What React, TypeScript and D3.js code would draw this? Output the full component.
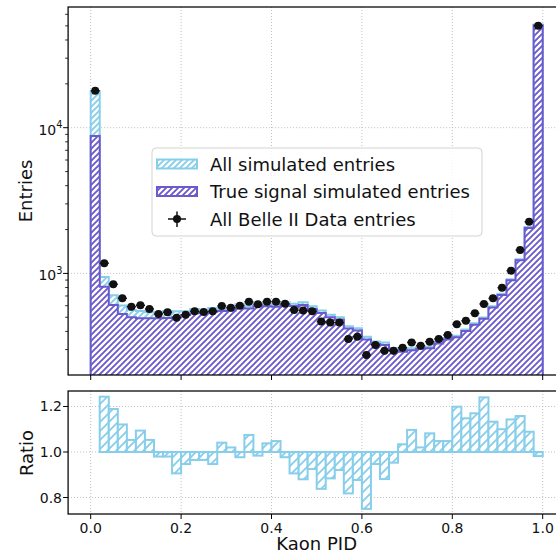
import React from "react";
import * as d3 from "d3";

// ---- data (50 bins of width 0.02 over Kaon PID 0..1) ----
const binEdges = d3.range(51).map((i) => i / 50);

const allSimulated = [
  17800, 943, 707, 602, 561, 552, 541, 537, 552, 549,
  550, 569, 563, 580, 573, 571, 614, 595, 624, 617,
  611, 634, 619, 633, 594, 557, 520, 500, 434, 420,
  367, 341, 335, 308, 299, 306, 313, 314, 339, 361,
  374, 412, 455, 498, 595, 725, 913, 1251, 2080, 51000,
];

const trueSignal = [
  8770, 811, 607, 526, 500, 492, 492, 492, 495, 500,
  519, 532, 535, 546, 552, 555, 580, 575, 598, 595,
  590, 610, 598, 608, 570, 535, 500, 480, 418, 405,
  352, 328, 322, 297, 290, 297, 304, 306, 330, 352,
  365, 402, 445, 488, 583, 712, 898, 1232, 2050, 50500,
];

const belleData = [
  17900, 1172, 841, 675, 591, 604, 570, 526, 541, 497,
  521, 549, 543, 549, 597, 582, 600, 640, 614, 640,
  640, 619, 561, 557, 549, 467, 460, 460, 355, 368,
  275, 323, 295, 294, 309, 336, 319, 340, 355, 378,
  448, 473, 532, 617, 674, 798, 1044, 1449, 2265, 50100,
];

const ratioVals = [
  1.0, 1.243, 1.189, 1.121, 1.053, 1.094, 1.053, 0.98, 0.98, 0.906,
  0.947, 0.965, 0.965, 0.947, 1.041, 1.02, 0.977, 1.075, 0.984, 1.038,
  1.048, 0.977, 0.906, 0.88, 0.925, 0.838, 0.884, 0.921, 0.818, 0.877,
  0.75, 0.947, 0.881, 0.953, 1.034, 1.097, 1.02, 1.082, 1.048, 1.048,
  1.199, 1.148, 1.17, 1.24, 1.133, 1.1, 1.143, 1.158, 1.089, 0.982,
];

const xTicks = [0, 0.2, 0.4, 0.6, 0.8, 1.0];
const xTickLabels = ["0.0", "0.2", "0.4", "0.6", "0.8", "1.0"];
const yMainTicks = [1e3, 1e4];
const yMainExps = ["3", "4"];
const yMinorTicks = [300, 400, 500, 600, 700, 800, 900, 2000, 3000, 4000, 5000, 6000, 7000, 8000, 9000, 20000, 30000, 40000, 50000, 60000];
const ratioTicks = [0.8, 1.0, 1.2];
const ratioTickLabels = ["0.8", "1.0", "1.2"];

const legendLabels = ["All simulated entries", "True signal simulated entries", "All Belle II Data entries"];

// ---- styles ----
const SKY = "#87CEEB";
const SLATE = "#6A5ACD";
const FONT = "'DejaVu Sans', sans-serif";
const GRID = "#b0b0b0";

const x = d3.scaleLinear().domain([-0.05, 1.05]).range([68.1, 565.3]);
const yMain = d3.scaleLog().domain([200.8, 67360]).range([375, 7]);
const yRatio = d3.scaleLinear().domain([0.7275, 1.268]).range([514, 391]);

const MAIN = { top: 7, bottom: 375 };
const RAT = { top: 391, bottom: 514 };
const LEFT = 68.1;
const RIGHT = 565.3;

function stepPath(vals: number[], base: number) {
  let d = `M${x(binEdges[0])},${base}`;
  vals.forEach((v, i) => {
    d += `L${x(binEdges[i])},${yMain(v)}L${x(binEdges[i + 1])},${yMain(v)}`;
  });
  d += `L${x(binEdges[binEdges.length - 1])},${base}Z`;
  return d;
}

function hatchPath(p: number) {
  return `M0,${p} l${p},${-p} M${-p / 4},${p / 4} l${p / 2},${-p / 2} M${(3 * p) / 4},${(5 * p) / 4} l${p / 2},${-p / 2}`;
}

export default function App() {
  const centers = belleData.map((_, i) => (binEdges[i] + binEdges[i + 1]) / 2);
  return (
    <svg
      width={556}
      height={554}
      style={{ position: "absolute", left: 0, top: 0, background: "#fff" }}
      fontFamily={FONT}
    >
      <defs>
        <pattern id="hBlue" patternUnits="userSpaceOnUse" width={6} height={6}>
          <rect width={6} height={6} fill="#fff" />
          <path d={hatchPath(6)} stroke={SKY} strokeWidth={1.9} />
        </pattern>
        <pattern id="hSlate" patternUnits="userSpaceOnUse" width={6} height={6}>
          <rect width={6} height={6} fill="#fff" />
          <path d={hatchPath(6)} stroke={SLATE} strokeWidth={1.9} />
        </pattern>
        <pattern id="hBlueR" patternUnits="userSpaceOnUse" width={9} height={9}>
          <rect width={9} height={9} fill="#fff" />
          <path d={hatchPath(9)} stroke={SKY} strokeWidth={1.8} />
        </pattern>
        <clipPath id="clipMain">
          <rect x={LEFT} y={MAIN.top} width={RIGHT - LEFT} height={MAIN.bottom - MAIN.top} />
        </clipPath>
        <clipPath id="clipRat">
          <rect x={LEFT} y={RAT.top} width={RIGHT - LEFT} height={RAT.bottom - RAT.top} />
        </clipPath>
      </defs>

      {/* ===== main panel ===== */}
      <rect x={LEFT} y={MAIN.top} width={RIGHT - LEFT} height={MAIN.bottom - MAIN.top} fill="#fff" />
      <g clipPath="url(#clipMain)">
        {xTicks.map((t) => (
          <line key={"gx" + t} x1={x(t)} x2={x(t)} y1={MAIN.top} y2={MAIN.bottom} stroke={GRID} strokeWidth={0.8} strokeDasharray="1,2" />
        ))}
        {yMainTicks.map((t) => (
          <line key={"gy" + t} x1={LEFT} x2={RIGHT} y1={yMain(t)} y2={yMain(t)} stroke={GRID} strokeWidth={0.8} strokeDasharray="1,2" />
        ))}
        <path d={stepPath(allSimulated, 420)} fill="url(#hBlue)" stroke={SKY} strokeWidth={2} strokeLinejoin="miter" />
        <path d={stepPath(trueSignal, 420)} fill="url(#hSlate)" stroke={SLATE} strokeWidth={2} strokeLinejoin="miter" />
        {belleData.map((v, i) => {
          const err = Math.sqrt(v);
          return (
            <g key={"d" + i}>
              <line x1={x(centers[i])} x2={x(centers[i])} y1={yMain(v + err)} y2={yMain(v - err)} stroke="#111" strokeWidth={1.5} />
              <line x1={x(binEdges[i])} x2={x(binEdges[i + 1])} y1={yMain(v)} y2={yMain(v)} stroke="#111" strokeWidth={1.5} />
              <circle cx={x(centers[i])} cy={yMain(v)} r={4} fill="#111" />
            </g>
          );
        })}
      </g>
      {/* legend */}
      <g>
        <rect x={152} y={148} width={330} height={88} rx={4} fill="#fff" fillOpacity={0.8} stroke="#d3d3d3" strokeWidth={1} />
        <rect x={157} y={159.5} width={40} height={9} fill="url(#hBlue)" stroke={SKY} strokeWidth={2} />
        <rect x={157} y={187} width={40} height={9} fill="url(#hSlate)" stroke={SLATE} strokeWidth={2} />
        <line x1={168} x2={186} y1={219} y2={219} stroke="#111" strokeWidth={1.5} />
        <line x1={177} x2={177} y1={211.5} y2={227} stroke="#111" strokeWidth={1.5} />
        <circle cx={177} cy={219} r={4} fill="#111" />
        {legendLabels.map((l, i) => (
          <text key={l} x={210} y={164 + i * 27.6 + 6.5} fontSize={18} fill="#111">
            {l}
          </text>
        ))}
      </g>
      <rect x={LEFT} y={MAIN.top} width={RIGHT - LEFT} height={MAIN.bottom - MAIN.top} fill="none" stroke="#000" strokeWidth={1.25} />
      {xTicks.map((t) => (
        <line key={"tx" + t} x1={x(t)} x2={x(t)} y1={MAIN.bottom} y2={MAIN.bottom + 5} stroke="#000" strokeWidth={1} />
      ))}
      {yMainTicks.map((t, i) => (
        <g key={"ty" + t}>
          <line x1={LEFT - 5} x2={LEFT} y1={yMain(t)} y2={yMain(t)} stroke="#000" strokeWidth={1} />
          <text x={62.5} y={yMain(t) + 7} textAnchor="end" fontSize={14} fill="#111">
            <tspan>10</tspan>
            <tspan dy={-6.5} fontSize={9.8}>{yMainExps[i]}</tspan>
          </text>
        </g>
      ))}
      {yMinorTicks.map((t) => (
        <line key={"tm" + t} x1={LEFT - 3} x2={LEFT} y1={yMain(t)} y2={yMain(t)} stroke="#000" strokeWidth={0.8} />
      ))}
      <text transform={`translate(31.5,191) rotate(-90)`} textAnchor="middle" fontSize={18} fill="#111">
        Entries
      </text>

      {/* ===== ratio panel ===== */}
      <rect x={LEFT} y={RAT.top} width={RIGHT - LEFT} height={RAT.bottom - RAT.top} fill="#fff" />
      <g clipPath="url(#clipRat)">
        {xTicks.map((t) => (
          <line key={"rgx" + t} x1={x(t)} x2={x(t)} y1={RAT.top} y2={RAT.bottom} stroke={GRID} strokeWidth={0.8} strokeDasharray="1,2" />
        ))}
        {ratioTicks.map((t) => (
          <line key={"rgy" + t} x1={LEFT} x2={RIGHT} y1={yRatio(t)} y2={yRatio(t)} stroke={GRID} strokeWidth={0.8} strokeDasharray="1,2" />
        ))}
        {ratioVals.map((r, i) => {
          const y0 = yRatio(Math.max(r, 1));
          const y1 = yRatio(Math.min(r, 1));
          return (
            <rect
              key={"rb" + i}
              x={x(binEdges[i])}
              y={y0}
              width={x(binEdges[i + 1]) - x(binEdges[i])}
              height={Math.max(y1 - y0, 0)}
              fill="url(#hBlueR)"
              stroke={SKY}
              strokeWidth={2}
            />
          );
        })}
      </g>
      <rect x={LEFT} y={RAT.top} width={RIGHT - LEFT} height={RAT.bottom - RAT.top} fill="none" stroke="#000" strokeWidth={1.25} />
      {xTicks.map((t, i) => (
        <g key={"rtx" + t}>
          <line x1={x(t)} x2={x(t)} y1={RAT.bottom} y2={RAT.bottom + 5} stroke="#000" strokeWidth={1} />
          <text x={x(t)} y={533} textAnchor="middle" fontSize={14} fill="#111">
            {xTickLabels[i]}
          </text>
        </g>
      ))}
      {ratioTicks.map((t, i) => (
        <g key={"rty" + t}>
          <line x1={LEFT - 5} x2={LEFT} y1={yRatio(t)} y2={yRatio(t)} stroke="#000" strokeWidth={1} />
          <text x={62} y={yRatio(t) + 5} textAnchor="end" fontSize={14} fill="#111">
            {ratioTickLabels[i]}
          </text>
        </g>
      ))}
      <text transform={`translate(33,453) rotate(-90)`} textAnchor="middle" fontSize={18} fill="#111">
        Ratio
      </text>
      <text x={x(0.5)} y={550} textAnchor="middle" fontSize={18} fill="#111">
        Kaon PID
      </text>
    </svg>
  );
}
